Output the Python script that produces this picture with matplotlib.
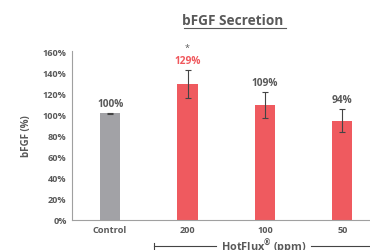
import matplotlib
matplotlib.use("Agg")
import matplotlib.pyplot as plt
from matplotlib.lines import Line2D

categories = ["Control", "200", "100", "50"]
values = [101, 129, 109, 94]
errors = [0.5, 13.5, 12.7, 11]
value_labels = ["100%", "129%", "109%", "94%"]
yticks = [0, 20, 40, 60, 80, 100, 120, 140, 160]

gray_text = "#595959"
bar_colors = ["#a2a2a6", "#ef5a5f", "#ef5a5f", "#ef5a5f"]
label_colors = [gray_text, "#f0585d", gray_text, gray_text]

plt.rcParams["font.family"] = ["Open Sans", "DejaVu Sans"]
plt.rcParams["mathtext.fontset"] = "custom"
plt.rcParams["mathtext.rm"] = "Open Sans:bold"
plt.rcParams["mathtext.default"] = "rm"

fig = plt.figure(figsize=(3.7, 2.51), dpi=100)
ax = fig.add_axes([0.195, 0.121, 0.81, 0.670])

x = range(len(categories))
ax.bar(x, values, width=0.26, color=bar_colors, zorder=2)
ax.errorbar(x, values, yerr=errors, fmt="none", ecolor="#444444",
            elinewidth=0.8, capsize=2.2, capthick=0.8, zorder=3)

for i, (v, e, lab, c) in enumerate(zip(values, errors, value_labels, label_colors)):
    ax.text(i, v + e + 9, lab, ha="center", va="center", fontsize=7.3,
            fontweight="bold", color=c)
ax.text(1, values[1] + errors[1] + 21, "*", ha="center", va="center",
        fontsize=6.5, color=gray_text)

ax.set_xlim(-0.49, 3.38)
ax.set_ylim(0, 160)
ax.set_yticks(yticks)
ax.set_yticklabels([f"{t}%" for t in yticks])
ax.set_xticks(list(x))
ax.set_xticklabels(categories)
ax.tick_params(length=0, labelsize=6.6, colors=gray_text, pad=4)
for lbl in ax.get_xticklabels() + ax.get_yticklabels():
    lbl.set_fontweight("bold")
ax.set_ylabel("bFGF (%)", fontsize=7, color=gray_text, fontweight="bold", labelpad=8)

for s in ["top", "right"]:
    ax.spines[s].set_visible(False)
for s in ["left", "bottom"]:
    ax.spines[s].set_color("#a0a0a0")
    ax.spines[s].set_linewidth(0.8)

# HotFlux bracket below the axis
yb = -25
ax.plot([0.57, 1.37], [yb, yb], color="#444444", lw=0.8, clip_on=False)
ax.plot([0.57, 0.57], [yb - 3, yb + 3], color="#444444", lw=0.8, clip_on=False)
ax.plot([2.6, 3.45], [yb, yb], color="#444444", lw=0.8, clip_on=False)
ax.text(1.99, yb, "HotFlux$^{\u00ae}$ (ppm)", ha="center", va="center",
        fontsize=7.8, fontweight="bold", color=gray_text, clip_on=False)

# title with underline
fig.text(0.63, 0.918, "bFGF Secretion", ha="center", va="center",
         fontsize=9.8, fontweight="bold", color=gray_text)
fig.add_artist(Line2D([184 / 370, 286 / 370], [0.883, 0.883],
                      color=gray_text, lw=0.8))

fig.savefig("out.png", dpi=100)
